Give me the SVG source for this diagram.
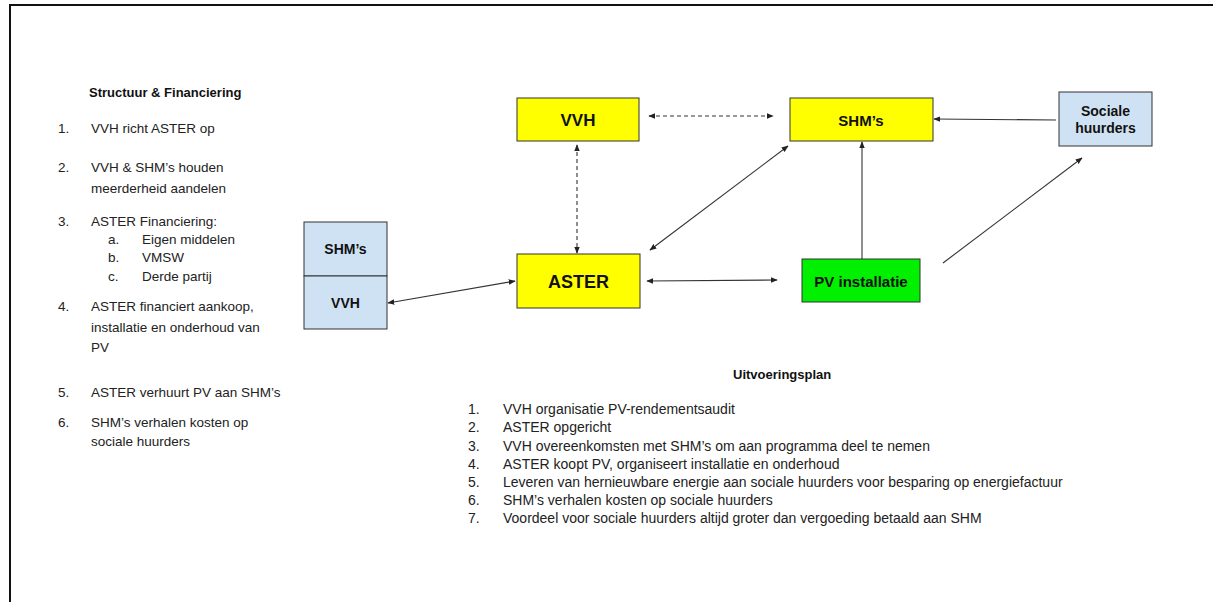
<svg xmlns="http://www.w3.org/2000/svg" width="1213" height="602" viewBox="0 0 1213 602">
<defs>
<style>
.txt{font-family:"Liberation Sans",Arial,sans-serif;font-size:13.5px;fill:#222}
.txb{font-family:"Liberation Sans",Arial,sans-serif;font-size:14px;fill:#222}
.ttl{font-family:"Liberation Sans",Arial,sans-serif;font-size:13px;font-weight:bold;fill:#111}
.nl{font-family:"Liberation Sans",Arial,sans-serif;font-weight:bold;fill:#111;text-anchor:middle}
.yel{fill:#ffff00;stroke:#333;stroke-width:1}
.blu{fill:#cfe2f3;stroke:#333;stroke-width:1}
.grn{fill:#00f000;stroke:#333;stroke-width:1}
.ln{stroke:#333;stroke-width:1.1;fill:none}
.dash{stroke-dasharray:4 3}
</style>
<marker id="ah" viewBox="0 0 10 10" refX="9" refY="5" markerWidth="7" markerHeight="7" orient="auto-start-reverse" markerUnits="userSpaceOnUse">
<path d="M0,1 L10,5 L0,9 z" fill="#222"/>
</marker>
</defs>
<rect width="1213" height="602" fill="#ffffff"/>
<g id="frame">
<line x1="10" y1="5" x2="1213" y2="5" stroke="#111" stroke-width="2"/>
<line x1="10" y1="4" x2="10" y2="602" stroke="#111" stroke-width="2"/>
</g>
<g id="left-text">
<text class="ttl" x="89" y="97">Structuur &amp; Financiering</text>
<text class="txt" x="58" y="133">1.</text><text class="txt" x="91" y="133">VVH richt ASTER op</text>
<text class="txt" x="58" y="172">2.</text><text class="txt" x="91" y="172">VVH &amp; SHM’s houden</text>
<text class="txt" x="91" y="193">meerderheid aandelen</text>
<text class="txt" x="58" y="226">3.</text><text class="txt" x="91" y="226">ASTER Financiering:</text>
<text class="txt" x="108" y="244">a.</text><text class="txt" x="142" y="244">Eigen middelen</text>
<text class="txt" x="108" y="262">b.</text><text class="txt" x="142" y="262">VMSW</text>
<text class="txt" x="108" y="281">c.</text><text class="txt" x="142" y="281">Derde partij</text>
<text class="txt" x="58" y="311">4.</text><text class="txt" x="91" y="311">ASTER financiert aankoop,</text>
<text class="txt" x="91" y="332">installatie en onderhoud van</text>
<text class="txt" x="91" y="352">PV</text>
<text class="txt" x="58" y="397">5.</text><text class="txt" x="91" y="397">ASTER verhuurt PV aan SHM’s</text>
<text class="txt" x="58" y="427">6.</text><text class="txt" x="91" y="427">SHM’s verhalen kosten op</text>
<text class="txt" x="91" y="446">sociale huurders</text>
</g>
<g id="bottom-text">
<text class="ttl" x="733" y="379">Uitvoeringsplan</text>
<text class="txb" x="468" y="414">1.</text><text class="txb" x="503" y="414">VVH organisatie PV-rendementsaudit</text>
<text class="txb" x="468" y="432">2.</text><text class="txb" x="503" y="432">ASTER opgericht</text>
<text class="txb" x="468" y="451">3.</text><text class="txb" x="503" y="451">VVH overeenkomsten met SHM’s om aan programma deel te nemen</text>
<text class="txb" x="468" y="469">4.</text><text class="txb" x="503" y="469">ASTER koopt PV, organiseert installatie en onderhoud</text>
<text class="txb" x="468" y="487">5.</text><text class="txb" x="503" y="487">Leveren van hernieuwbare energie aan sociale huurders voor besparing op energiefactuur</text>
<text class="txb" x="468" y="505">6.</text><text class="txb" x="503" y="505">SHM’s verhalen kosten op sociale huurders</text>
<text class="txb" x="468" y="523">7.</text><text class="txb" x="503" y="523">Voordeel voor sociale huurders altijd groter dan vergoeding betaald aan SHM</text>
</g>
<g id="connectors">
<line class="ln dash" x1="649" y1="116" x2="773" y2="116" marker-start="url(#ah)" marker-end="url(#ah)"/>
<line class="ln dash" x1="577" y1="145" x2="577" y2="253" marker-start="url(#ah)" marker-end="url(#ah)"/>
<line class="ln" x1="650" y1="250" x2="788" y2="146" marker-start="url(#ah)" marker-end="url(#ah)"/>
<line class="ln" x1="647" y1="281" x2="777" y2="280" marker-start="url(#ah)" marker-end="url(#ah)"/>
<line class="ln" x1="862" y1="259" x2="862" y2="142" marker-end="url(#ah)"/>
<line class="ln" x1="1056" y1="120" x2="934" y2="119" marker-end="url(#ah)"/>
<line class="ln" x1="943" y1="263" x2="1082" y2="158" marker-end="url(#ah)"/>
<line class="ln" x1="388" y1="303" x2="515" y2="281" marker-start="url(#ah)" marker-end="url(#ah)"/>
</g>
<g id="node-vvh">
<rect class="yel" x="517" y="98" width="122" height="43"/>
<text class="nl" x="578" y="126" font-size="17">VVH</text>
</g>
<g id="node-aster">
<rect class="yel" x="517" y="254" width="123" height="54"/>
<text class="nl" x="578.5" y="288" font-size="18">ASTER</text>
</g>
<g id="node-shms">
<rect class="yel" x="790" y="98" width="143" height="43"/>
<text class="nl" x="861" y="126" font-size="15">SHM’s</text>
</g>
<g id="node-pv">
<rect class="grn" x="802" y="259" width="118" height="43"/>
<text class="nl" x="861" y="287" font-size="15">PV installatie</text>
</g>
<g id="node-sociale">
<rect class="blu" x="1059" y="92" width="93" height="54"/>
<text class="nl" x="1105.5" y="116" font-size="14">Sociale</text>
<text class="nl" x="1105.5" y="133" font-size="14">huurders</text>
</g>
<g id="node-stack">
<rect class="blu" x="304" y="222" width="83" height="54"/>
<rect class="blu" x="304" y="276" width="83" height="53"/>
<text class="nl" x="345.5" y="254" font-size="14">SHM’s</text>
<text class="nl" x="345.5" y="308" font-size="14">VVH</text>
</g>
</svg>
